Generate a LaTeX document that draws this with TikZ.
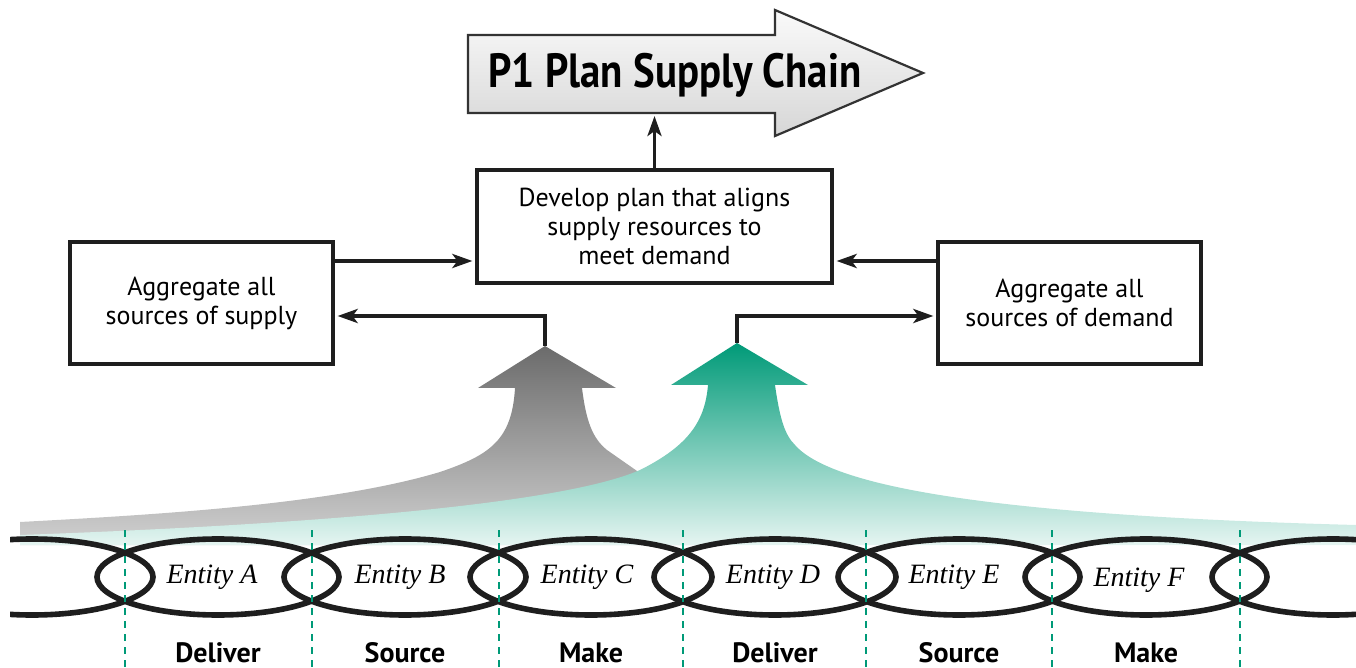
\documentclass[tikz,border=0pt]{standalone}
\usepackage{fontspec}
\setmainfont{PT Sans}
\newfontfamily\titlefont[FakeStretch=0.85]{PT Sans}
\newfontfamily\entityfont{Liberation Serif}
\usetikzlibrary{calc,arrows.meta}
\definecolor{scgreen}{RGB}{0,154,120}
\definecolor{linkblack}{RGB}{30,30,30}

\begin{document}
\begin{tikzpicture}[
  x=0.5pt, y=-0.5pt,
  every node/.style={inner sep=0pt},
  taskbox/.style={draw=linkblack, line width=1.6pt, align=center, font=\fontsize{13}{14.5}\selectfont},
  conn/.style={draw=linkblack, line width=1.8pt, -{Stealth[length=10pt,width=7pt,inset=2.5pt]}, shorten >=1.5pt},
  link/.style={draw=linkblack, line width=2.8pt},
  boundary/.style={draw=scgreen, line width=1.3pt, dash pattern=on 3.5pt off 3pt},
  entity/.style={font=\entityfont\itshape\fontsize{14}{16}\selectfont},
  role/.style={font=\bfseries\fontsize{14}{16}\selectfont}
]
\useasboundingbox (0,0) rectangle (1356,668);

% flows rising out of the chain
\shade[top color=black!58, bottom color=black!18]
  (545,346) -- (616,388) -- (582,388) .. controls (586,420) and (592,438) .. (607,450)
  -- (700,515) -- (700,545) -- (20,545) -- (20,522)
  .. controls (150,515) and (330,505) .. (440,472)
  .. controls (490,455) and (512,440) .. (515,388) -- (478,388) -- cycle;
\shade[top color=scgreen, middle color=scgreen!55, bottom color=scgreen!10]
  (737,343) -- (808,385) -- (775,385) .. controls (780,420) and (785,435) .. (795,445)
  .. controls (830,485) and (980,515) .. (1356,525) -- (1356,545) -- (20,545) -- (20,535)
  .. controls (300,525) and (560,505) .. (640,470)
  .. controls (690,445) and (705,420) .. (708,385) -- (671,385) -- cycle;
\coordinate (supplytip) at (545,346);
\coordinate (demandtip) at (737,343);

% title arrow
\shade[top color=gray!4, bottom color=gray!32, draw=black!80, line width=1.1pt]
  (468,35) -- (775,35) -- (775,10) -- (923,73) -- (775,136) -- (775,113) -- (468,113) -- cycle;
\node[font=\titlefont\bfseries\fontsize{24}{28}\selectfont] (title) at (675,75) {P1 Plan Supply Chain};

% planning boxes
\node[taskbox, minimum width=131.5pt, minimum height=61pt] (supply) at (201.5,303) {Aggregate all\\sources of supply};
\node[taskbox, minimum width=177.5pt, minimum height=56.5pt] (plan) at (654.5,226.5) {Develop plan that aligns\\supply resources to\\meet demand};
\node[taskbox, minimum width=131.5pt, minimum height=61pt] (demand) at (1069.5,303) {Aggregate all\\sources of demand};

\coordinate (titlebase) at (plan.north |- 0,113);
\coordinate (supplyout) at ($(supply.east)+(0,-42)$);
\coordinate (demandout) at ($(demand.west)+(0,-42)$);
\draw[conn] (plan.north) -- (titlebase);
\draw[conn] (supplyout) -- (supplyout -| plan.west);
\draw[conn] (demandout) -- (demandout -| plan.east);
\draw[conn] (supplytip) |- ($(supply.east)+(0,13)$);
\draw[conn] (demandtip) |- ($(demand.west)+(0,13)$);

% chain links
\begin{scope}
  \clip (10,500) rectangle (1356,640);
  \draw[link] (32,577) ellipse [x radius=60.5pt, y radius=19pt];
  \draw[link] (218,577) ellipse [x radius=60.5pt, y radius=19pt];
  \draw[link] (405,577) ellipse [x radius=60.5pt, y radius=19pt];
  \draw[link] (591,577) ellipse [x radius=60.5pt, y radius=19pt];
  \draw[link] (775,577) ellipse [x radius=60.5pt, y radius=19pt];
  \draw[link] (959,577) ellipse [x radius=60.5pt, y radius=19pt];
  \draw[link] (1146,577) ellipse [x radius=60.5pt, y radius=19pt];
  \draw[link] (1333,577) ellipse [x radius=60.5pt, y radius=19pt];
\end{scope}

% entity boundaries
\draw[boundary] (125,530) -- (125,668);
\draw[boundary] (312,530) -- (312,668);
\draw[boundary] (499,530) -- (499,668);
\draw[boundary] (683,530) -- (683,668);
\draw[boundary] (866,530) -- (866,668);
\draw[boundary] (1052,530) -- (1052,668);
\draw[boundary] (1240,530) -- (1240,668);

\node[entity] (entA) at (212,577) {Entity A};
\node[entity] (entB) at (400,577) {Entity B};
\node[entity] (entC) at (587,577) {Entity C};
\node[entity] (entD) at (773,577) {Entity D};
\node[entity] (entE) at (954,577) {Entity E};
\node[entity] (entF) at (1139,580) {Entity F};

\node[role] (roleA) at (218,653) {Deliver};
\node[role] (roleB) at (405,653) {Source};
\node[role] (roleC) at (591,653) {Make};
\node[role] (roleD) at (775,653) {Deliver};
\node[role] (roleE) at (959,653) {Source};
\node[role] (roleF) at (1146,653) {Make};
\end{tikzpicture}
\end{document}
